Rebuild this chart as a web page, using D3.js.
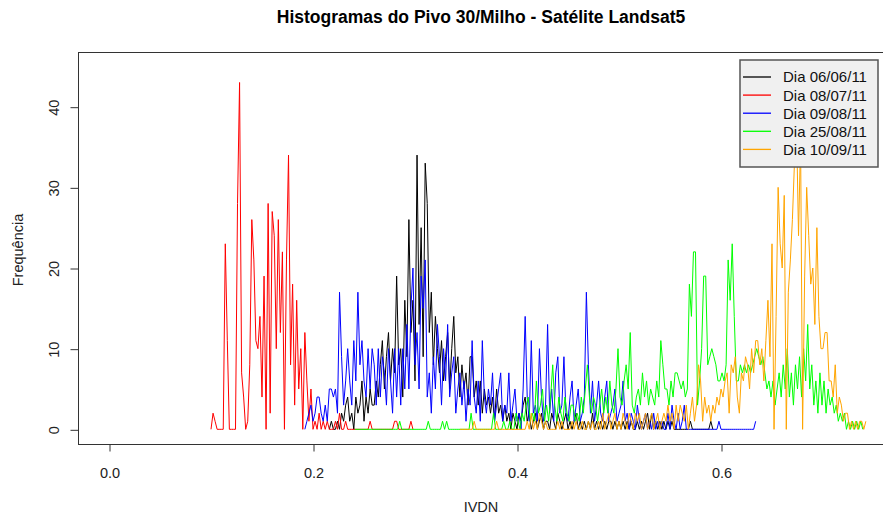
<!DOCTYPE html>
<html>
<head>
<meta charset="utf-8">
<script src="https://cdn.jsdelivr.net/npm/d3@7"></script>
<style>
  body { margin: 0; background: #fff; }
  svg { display: block; font-family: "Liberation Sans", Arial, sans-serif; }
</style>
</head>
<body>
<svg id="chart" width="883" height="517"></svg>
<script>
// Histogram bin width (IVDN) shared by every date
const passoIVDN = 0.002;

// Dia 06/06/11 (black)
const inicio0606 = 0.216;
const freq0606 = [
  0,1,0,0,1,0,2,1,3,4, 1,2,0,4,2,3,6,1,4,2, 5,3,3,6,4,8,11,5,9,12,
  6,10,7,19,8,10,4,16,9,26, 12,16,6,34,13,25,9,33,28,12, 17,8,14,10,7,11,6,9,12,5,
  10,14,7,9,4,8,5,7,3,9, 9,4,6,3,6,2,5,3,4,2, 4,1,5,2,3,1,3,1,2,0,
  2,1,0,2,1,3,4,1,2,0, 1,2,0,1,2,0,1,1,0,2, 1,0,2,1,0,1,2,0,1,0,
  1,2,0,1,0,1,0,1,0,2, 0,1,0,1,0,1,0,1,1,0, 1,0,1,0,1,0,1,0,1,0,
  0,1,0,1,0,1,2,0,2,0, 1,0,1,0,1,0,1,0,1,0, 0,0,0,0,0,0,0,1,0,0,
  0,0,0,0,0,0,0,1,0
];

// Dia 08/07/11 (red)
const inicio0807 = 0.100;
const freq0807 = [
  0,2,1,0,0,0,0,23,11,0, 0,0,0,28,43,7,4,0,1,8, 26,21,11,10,14,4,19,0,28,2,
  27,24,10,26,12,22,0,21,34,8, 18,3,16,5,10,0,12,6,1,5, 0,1,0,2,0,1,0,1,0,0,
  0,1,0,2,0,0,1,0,0,0, 0,0,0,0,0,0,0,0,1,0, 0,0,0,0,0,0,0,0,0,0,
  1,1,0,0,0,0,0,0,1,0
];

// Dia 09/08/11 (blue)
const inicio0908 = 0.192;
const freq0908 = [
  0,1,2,3,1,2,4,4,2,1, 3,1,5,5,4,5,2,17,9,3, 6,10,6,3,11,6,17,8,11,6,
  4,10,5,10,8,3,10,4,9,7, 3,10,6,2,10,4,10,3,10,5, 13,5,15,20,8,12,5,19,15,21,
  4,7,2,9,5,13,9,3,10,6, 13,4,7,9,2,5,7,3,6,1, 5,3,11,4,2,6,1,11,4,2,
  5,3,7,1,3,5,7,1,3,2, 7,1,3,5,1,2,0,5,14,4, 1,11,2,3,1,10,4,1,3,13,
  2,5,1,7,9,2,3,9,2,1, 4,6,1,3,5,1,2,4,17,8, 2,6,1,3,6,2,1,4,6,1,
  2,3,5,1,2,3,6,1,2,0, 2,1,0,3,1,0,1,2,0,1, 0,2,0,1,0,1,0,0,2,0,
  3,1,0,2,0,1,3,0,0,0, 0,0,0,0,0,0,0,0,0,0, 0,0,0,1,0,0,0,0,0,0,
  0,0,0,0,0,0,0,0,0,0, 0,1
];

// Dia 25/08/11 (green)
const inicio2508 = 0.241;
const freq2508 = [
  0,0,0,0,0,0,0,0,0,0, 0,0,0,0,0,0,0,0,0,0, 0,0,1,0,0,0,0,0,0,0,
  0,0,0,0,0,0,1,0,0,0, 0,0,0,1,0,1,0,0,0,0, 0,0,0,0,0,0,0,2,0,0,
  0,0,0,0,0,0,0,0,2,0, 0,0,0,1,0,0,1,0,0,2, 1,0,2,1,3,4,1,2,1,6,
  2,3,5,1,3,1,4,8,3,1, 4,2,1,4,2,1,3,3,1,2, 1,4,2,5,8,4,2,4,3,1,
  3,5,2,4,2,6,3,2,5,10, 4,3,6,8,5,12,3,2,4,5, 3,7,4,6,3,5,4,3,6,4,
  11,8,5,5,3,6,4,7,7,6, 5,6,4,5,18,14,22,22,3,6, 10,19,19,8,9,10,9,8,6,6,
  7,6,8,21,16,23,14,6,6,8, 7,8,7,8,7,8,9,10,9,8, 9,7,5,6,4,6,3,5,7,4,
  8,5,10,4,7,3,8,5,9,4, 10,6,13,5,8,3,6,2,7,3, 6,2,5,3,4,2,3,1,2,1,
  2,0,1,0,1,0,1,0,1,0
];

// Dia 10/09/11 (orange)
const inicio1009 = 0.344;
const freq1009 = [
  0,0,0,0,0,0,0,1,0,0, 0,0,0,0,0,0,0,0,1,0, 0,0,0,0,0,0,0,0,0,0,
  0,0,0,1,0,2,0,1,0,2, 1,0,1,0,0,0,0,0,1,0, 1,0,0,0,0,1,0,1,0,0,
  1,0,0,1,0,1,0,0,1,0, 2,0,1,2,0,1,2,0,1,0, 2,1,0,2,1,0,2,1,2,0,
  1,2,0,1,2,0,1,2,0,1, 2,1,3,1,2,0,3,1,3,2, 1,3,0,2,4,1,3,8,6,1,
  4,2,3,1,3,2,4,3,5,4, 6,7,2,8,7,9,4,2,7,6, 9,8,5,10,7,11,11,8,10,6,
  11,16,9,23,0,14,30,23,20,29, 0,17,21,26,33,38,24,36,0,19, 30,24,18,20,13,25,14,10,10,12,
  12,6,6,4,8,2,4,3,1,2, 2,0,1,0,1,0,1,1,0,1
];

const legendas = ["Dia 06/06/11", "Dia 08/07/11", "Dia 09/08/11", "Dia 25/08/11", "Dia 10/09/11"];
const cores = ["#000000", "#ff0000", "#0000ff", "#00ff00", "#ffa500"];
const inicios = [inicio0606, inicio0807, inicio0908, inicio2508, inicio1009];
const frequencias = [freq0606, freq0807, freq0908, freq2508, freq1009];

const xTicks = [0, 0.2, 0.4, 0.6];
const yTicks = [0, 10, 20, 30, 40];

const titulo = "Histogramas do Pivo 30/Milho - Satélite Landsat5";
const rotuloX = "IVDN";
const rotuloY = "Frequência";

// plotting region
const box = { left: 78, top: 52, right: 884, bottom: 444 };

const svg = d3.select("#chart");

const x = d3.scaleLinear().domain([-0.0304, 0.7598]).range([box.left, box.right]);
const y = d3.scaleLinear().domain([-1.82, 46.78]).range([box.bottom, box.top]);

svg.append("defs").append("clipPath").attr("id", "area")
  .append("rect")
  .attr("x", box.left).attr("y", box.top)
  .attr("width", box.right - box.left).attr("height", box.bottom - box.top);

// histogram lines, drawn in legend order
const linha = d3.line().x(d => x(d[0])).y(d => y(d[1]));
const series = frequencias.map((f, k) =>
  f.map((v, i) => [inicios[k] + i * passoIVDN, v]));

svg.append("g").attr("clip-path", "url(#area)")
  .selectAll("path").data(series).join("path")
  .attr("d", linha)
  .attr("fill", "none")
  .attr("stroke", (d, k) => cores[k])
  .attr("stroke-width", 1)
  .attr("stroke-linejoin", "miter");

// frame
svg.append("rect")
  .attr("x", box.left + 0.5).attr("y", box.top + 0.5)
  .attr("width", box.right - box.left).attr("height", box.bottom - box.top)
  .attr("fill", "none").attr("stroke", "#333").attr("stroke-width", 1);

// axes
const gx = svg.append("g")
  .attr("transform", `translate(0.5,${box.bottom + 0.5})`)
  .call(d3.axisBottom(x).tickValues(xTicks).tickFormat(d3.format(".1f"))
    .tickSize(7).tickSizeOuter(0).tickPadding(16));
gx.select(".domain").remove();
gx.selectAll("line").attr("stroke", "#333");
gx.selectAll("text").attr("font-size", "14.5px").attr("fill", "#222")
  .attr("font-family", "Liberation Sans, Arial, sans-serif");

const gy = svg.append("g")
  .attr("transform", `translate(${box.left + 0.5},0.5)`)
  .call(d3.axisLeft(y).tickValues(yTicks).tickSize(8).tickSizeOuter(0));
gy.select(".domain").remove();
gy.selectAll("line").attr("stroke", "#333");
gy.selectAll("text")
  .attr("x", 0).attr("dy", 0)
  .attr("transform", "translate(-20,0) rotate(-90)")
  .attr("text-anchor", "middle")
  .attr("font-size", "14.5px").attr("fill", "#222")
  .attr("font-family", "Liberation Sans, Arial, sans-serif");

// titles
svg.append("text")
  .attr("x", (box.left + box.right) / 2).attr("y", 23)
  .attr("text-anchor", "middle")
  .attr("font-size", "17.5px").attr("font-weight", "bold").attr("fill", "#000")
  .text(titulo);

svg.append("text")
  .attr("x", (box.left + box.right) / 2).attr("y", 512)
  .attr("text-anchor", "middle")
  .attr("font-size", "14.5px").attr("fill", "#222")
  .text(rotuloX);

svg.append("text")
  .attr("transform", `translate(23,${(box.top + box.bottom) / 2 + 2}) rotate(-90)`)
  .attr("text-anchor", "middle")
  .attr("font-size", "14.5px").attr("fill", "#222")
  .text(rotuloY);

// legend
const leg = svg.append("g").attr("transform", "translate(740,60)");
leg.append("rect")
  .attr("width", 138).attr("height", 107)
  .attr("fill", "#f0f0f0").attr("stroke", "#555").attr("stroke-width", 1.5);
const item = leg.selectAll("g.item").data(legendas).join("g")
  .attr("class", "item")
  .attr("transform", (d, i) => `translate(0,${17 + i * 18.1})`);
item.append("line")
  .attr("x1", 3).attr("x2", 31)
  .attr("stroke", (d, i) => cores[i]).attr("stroke-width", 1.3);
item.append("text")
  .attr("x", 43).attr("dy", "0.36em")
  .attr("font-size", "15px").attr("fill", "#111")
  .text(d => d);
</script>
</body>
</html>
